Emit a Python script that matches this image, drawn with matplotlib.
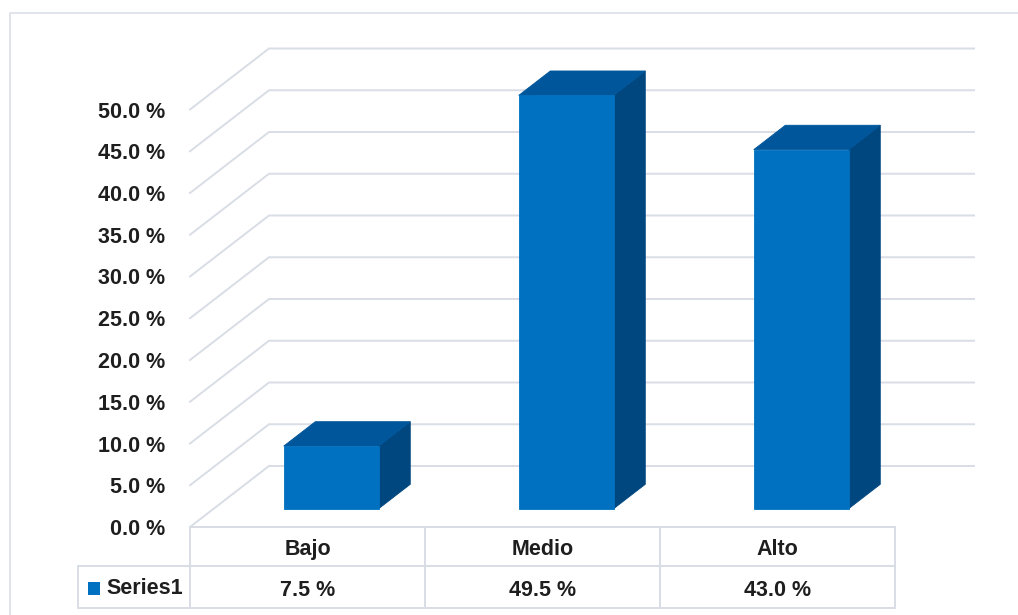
import numpy as np
import matplotlib
matplotlib.use('Agg')
import matplotlib.pyplot as plt
from matplotlib.patches import Polygon, Rectangle
from matplotlib.lines import Line2D
from matplotlib.transforms import IdentityTransform

# data
categories = ['Bajo', 'Medio', 'Alto']
values = [7.5, 49.5, 43.0]
series_name = 'Series1'
y_ticks = [0, 5, 10, 15, 20, 25, 30, 35, 40, 45, 50]
tick_labels = [f'{v:.1f} %' for v in y_ticks]

# colours (Excel-style 3D column)
FRONT = '#0070C0'
TOP = '#00569B'
SIDE = '#00467F'
GRID = '#D9DDE6'
TEXT = '#1E1E1E'
FS = 15.5

plt.rcParams['font.family'] = ['Liberation Sans', 'DejaVu Sans']

W, H = 1018, 615
fig = plt.figure(figsize=(W / 100, H / 100), dpi=100)
ax = fig.add_axes([190 / W, 88 / H, 705 / W, 417.5 / H])
ax.set_xlim(0, 3)
ax.set_ylim(0, 50)
ax.patch.set_visible(False)
for s in ax.spines.values():
    s.set_visible(False)
ax.set_xticks([])
ax.set_yticks(y_ticks, tick_labels)
ax.tick_params(axis='y', length=0, pad=18, labelsize=FS, labelcolor=TEXT)
for lbl in ax.get_yticklabels():
    lbl.set_fontweight('bold')

# oblique depth offset of the floor, in pixels
DEPTH_DX, DEPTH_DY = 79, 61
ident = IdentityTransform()


def proj(x, y, d=0.0):
    px, py = ax.transData.transform((x, y))
    return (px + d * DEPTH_DX, py + d * DEPTH_DY)


def pline(points, color=GRID, lw=1.4, z=1):
    xs = [p[0] for p in points]
    ys = [p[1] for p in points]
    ax.add_line(Line2D(xs, ys, color=color, lw=lw, transform=ident,
                       clip_on=False, zorder=z))


# side wall + back wall gridlines
for v in y_ticks:
    pline([proj(0, v, 0), proj(0, v, 1), proj(3, v, 1)])

# 3D columns
bar_w = 0.404
d0, d1 = 0.3, 0.7
for i, v in enumerate(values):
    x0 = i + 0.5 - bar_w / 2
    x1 = x0 + bar_w
    side = [proj(x1, 0, d0), proj(x1, 0, d1), proj(x1, v, d1), proj(x1, v, d0)]
    top = [proj(x0, v, d0), proj(x1, v, d0), proj(x1, v, d1), proj(x0, v, d1)]
    front = [proj(x0, 0, d0), proj(x1, 0, d0), proj(x1, v, d0), proj(x0, v, d0)]
    for poly, col in ((side, SIDE), (top, TOP), (front, FRONT)):
        ax.add_patch(Polygon(poly, closed=True, facecolor=col, edgecolor=col,
                             lw=0.6, transform=ident, clip_on=False, zorder=3))

# data table under the plot
x_left, y_top = proj(0, 0, 0)
x_right = proj(3, 0, 0)[0]
row1, row2 = 39, 42
y_mid = y_top - row1
y_bot = y_mid - row2
key_left = x_left - 112

pline([(x_left, y_top), (x_right, y_top)], z=4)
pline([(key_left, y_mid), (x_right, y_mid)], z=4)
pline([(key_left, y_bot), (x_right, y_bot)], z=4)
pline([(key_left, y_mid), (key_left, y_bot)], z=4)
for i in range(4):
    xi = proj(i, 0, 0)[0]
    pline([(xi, y_top), (xi, y_bot)], z=4)

for i, (cat, v) in enumerate(zip(categories, values)):
    xc = proj(i + 0.5, 0, 0)[0]
    ax.text(xc, y_top - row1 / 2 - 3, cat, transform=ident, ha='center',
            va='center', fontsize=FS, fontweight='bold', color=TEXT)
    ax.text(xc, y_mid - row2 / 2 - 3, f'{v:.1f} %', transform=ident,
            ha='center', va='center', fontsize=FS, fontweight='bold',
            color=TEXT)

# legend key in the table
ax.add_patch(Rectangle((key_left + 10, y_mid - row2 / 2 - 8), 12, 13,
                       facecolor=FRONT, edgecolor='none', transform=ident,
                       clip_on=False, zorder=4))
ax.text(key_left + 28, y_mid - row2 / 2 - 2, series_name, transform=ident,
        ha='left', va='center', fontsize=FS, fontweight='bold', color=TEXT)

# chart area border
fig.add_artist(Line2D([10, 10, W + 5], [-5, H - 13, H - 13], color='#DCE0E8',
                      lw=1.2, transform=ident))

fig.savefig('out.png', dpi=100)
